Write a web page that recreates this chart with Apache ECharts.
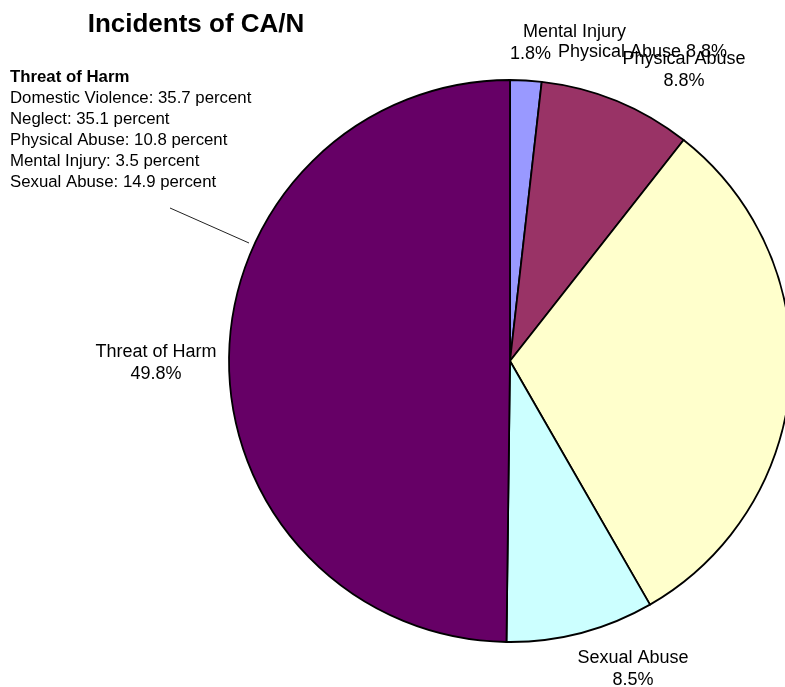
<!DOCTYPE html>
<html>
<head>
<meta charset="utf-8">
<title>Incidents of CA/N</title>
<script src="https://cdn.jsdelivr.net/npm/echarts@6/dist/echarts.min.js"></script>
<style>
  html, body { margin: 0; padding: 0; background: #ffffff; }
  #chart { width: 785px; height: 687px; }
</style>
</head>
<body>
<div id="chart"></div>
<script>
// Share of incidents by category (percent), clockwise from 12 o'clock
const categories = ['Mental Injury', 'Physical Abuse', 'Neglect', 'Sexual Abuse', 'Threat of Harm'];
const shares = [1.8, 8.8, 31.1, 8.5, 49.8];
const sliceColors = ['#9999FF', '#993366', '#FFFFCC', '#CCFFFF', '#660066'];
const labelled = [true, true, false, true, true];

// Breakdown of the "Threat of Harm" slice
const breakdownTitle = 'Threat of Harm';
const breakdownNames = ['Domestic Violence', 'Neglect', 'Physical Abuse', 'Mental Injury', 'Sexual Abuse'];
const breakdownValues = [35.7, 35.1, 10.8, 3.5, 14.9];

const FONT = 'Arial, "Liberation Sans", Helvetica, sans-serif';

// Where each slice label sits (x, y, alignment)
const labelSpots = [
  { x: 510, y: 43, align: 'left' },
  { x: 684, y: 70, align: 'center' },
  { x: 0, y: 0, align: 'center' },
  { x: 633, y: 669, align: 'center' },
  { x: 156, y: 363, align: 'center' }
];

const chart = echarts.init(document.getElementById('chart'), null, { renderer: 'canvas' });

const pieData = categories.map((name, i) => ({
  name: name,
  value: shares[i],
  itemStyle: { color: sliceColors[i] },
  label: { show: labelled[i] }
}));

const blockTexts = [{
  type: 'text',
  left: 10,
  top: 69,
  style: { text: breakdownTitle, font: 'bold 16.8px ' + FONT, fill: '#000' }
}].concat(breakdownNames.map((n, i) => ({
  type: 'text',
  left: 10,
  top: 90 + i * 20.9,
  style: { text: n + ': ' + breakdownValues[i].toFixed(1) + ' percent', font: '16.8px ' + FONT, fill: '#000' }
})));

const option = {
  backgroundColor: '#ffffff',
  animation: false,
  title: {
    text: 'Incidents of CA/N',
    left: 191,
    top: 7,
    textAlign: 'center',
    textStyle: { fontFamily: FONT, fontWeight: 'bold', fontSize: 26, color: '#000' }
  },
  graphic: blockTexts.concat([
    {
      type: 'line',
      shape: { x1: 170, y1: 208, x2: 249, y2: 243 },
      style: { stroke: '#222', lineWidth: 1 }
    },
    {
      // second copy of the Physical Abuse caption, run onto the Mental Injury line
      type: 'text',
      left: 558,
      top: 43,
      style: {
        text: categories[1] + ' ' + shares[1].toFixed(1) + '%',
        font: '18px ' + FONT,
        fill: '#000'
      }
    }
  ]),
  series: [{
    type: 'pie',
    center: [510, 361],
    radius: 281,
    startAngle: 90,
    clockwise: true,
    avoidLabelOverlap: false,
    data: pieData,
    itemStyle: { borderColor: '#000', borderWidth: 1.8 },
    emphasis: { disabled: true },
    labelLine: { show: false },
    label: {
      position: 'outside',
      fontFamily: FONT,
      fontSize: 18,
      color: '#000',
      lineHeight: 22,
      formatter: function (p) {
        if (p.dataIndex === 0) {
          return '{n|' + p.name + '}\n{v|' + p.value.toFixed(1) + '%}';
        }
        return p.name + '\n' + p.value.toFixed(1) + '%';
      },
      rich: {
        n: { fontFamily: FONT, fontSize: 18, color: '#000', lineHeight: 22, padding: [0, 0, 0, 13] },
        v: { fontFamily: FONT, fontSize: 18, color: '#000', lineHeight: 22 }
      }
    },
    labelLayout: function (params) {
      const s = labelSpots[params.dataIndex];
      return { x: s.x, y: s.y, align: s.align, verticalAlign: 'middle', hideOverlap: false };
    }
  }]
};

chart.setOption(option);
</script>
</body>
</html>
